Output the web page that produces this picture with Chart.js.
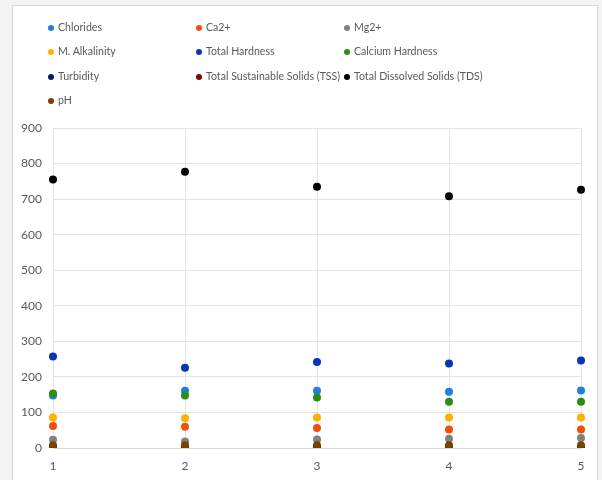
<!DOCTYPE html>
<html>
<head>
<meta charset="utf-8">
<script src="https://cdn.jsdelivr.net/npm/chart.js@4.4.1/dist/chart.umd.min.js"></script>
<style>
  html,body{margin:0;padding:0;}
  body{width:602px;height:480px;background:#f3f3f3;position:relative;overflow:hidden;font-family:Lato,"Liberation Sans",sans-serif;}
  #card{position:absolute;left:12px;top:5px;width:586px;height:490px;background:#fff;border:1px solid #d9d9d9;box-sizing:border-box;}
  #wrap{position:absolute;left:0;top:0;width:602px;height:480px;}
  #legend{position:absolute;left:0;top:0;width:602px;height:120px;}
  .li{position:absolute;font-size:10.6px;color:#595959;white-space:nowrap;line-height:14px;}
  .dot{display:inline-block;width:6px;height:6px;border-radius:50%;margin-right:4px;vertical-align:0px;}
</style>
</head>
<body>
<div id="card"></div>
<div id="wrap"><canvas id="c" width="602" height="480"></canvas></div>
<div id="legend"></div>
<script>
const categories = ['1','2','3','4','5'];
const seriesNames = ['Chlorides','Ca2+','Mg2+','M. Alkalinity','Total Hardness','Calcium Hardness','Turbidity','Total Sustainable Solids (TSS)','Total Dissolved Solids (TDS)','pH'];
const seriesColors = ['#1f7fdb','#f24f0c','#808080','#ffb000','#0535b8','#2e8b14','#0a1a5e','#7a0b00','#000000','#7a4200'];
const chlorides = [148, 161, 161, 158, 162];
const ca2 = [62, 60, 56, 52, 52];
const mg2 = [23, 18, 24, 26, 28];
const mAlkalinity = [86, 84, 86, 86, 86];
const totalHardness = [257, 226, 242, 238, 246];
const calciumHardness = [153, 148, 142, 130, 130];
const turbidity = [2.1, 1.8, 2.4, 2.0, 1.9];
const tss = [0.6, 0.5, 0.8, 0.6, 0.7];
const tds = [755, 777, 735, 708, 726];
const ph = [7.8, 7.6, 7.9, 7.7, 7.8];
const yTicks = [0,100,200,300,400,500,600,700,800,900];

const seriesValues = [chlorides, ca2, mg2, mAlkalinity, totalHardness, calciumHardness, turbidity, tss, tds, ph];

// HTML legend (3 columns)
const leg = document.getElementById('legend');
seriesNames.forEach((n,i)=>{
  const col = i%3, row = Math.floor(i/3);
  const d = document.createElement('div');
  d.className='li';
  d.style.left = (48 + col*148) + 'px';
  d.style.top = (20 + row*24.4) + 'px';
  d.innerHTML = '<span class="dot" style="background:'+seriesColors[i]+'"></span>';
  d.appendChild(document.createTextNode(n));
  leg.appendChild(d);
});

const datasets = seriesNames.map((n,i)=>({
  label:n,
  data:seriesValues[i],
  backgroundColor:seriesColors[i],
  borderColor:seriesColors[i],
  showLine:false,
  pointRadius:4,
  pointBorderWidth:0,
  order: seriesNames.length - i
}));

new Chart(document.getElementById('c'),{
  type:'line',
  data:{labels:categories, datasets},
  options:{
    responsive:false,
    animation:false,
    layout:{padding:{left:0,top:128,right:21,bottom:0}},
    plugins:{legend:{display:false},tooltip:{enabled:false}},
    scales:{
      x:{
        offset:false,
        grid:{color:'#e4e4e4',drawTicks:false},
        border:{color:'#d9d9d9'},
        ticks:{color:'#595959',font:{family:'Lato',size:12},padding:11},
        afterFit:(s)=>{s.height=32;}
      },
      y:{
        min:0,max:900,
        afterBuildTicks:(s)=>{s.ticks = yTicks.map(v=>({value:v}));},
        grid:{color:'#e4e4e4',drawTicks:false},
        border:{display:false},
        ticks:{color:'#595959',font:{family:'Lato',size:12},padding:11},
        afterFit:(s)=>{s.width=53;}
      }
    }
  }
});
</script>
</body>
</html>
